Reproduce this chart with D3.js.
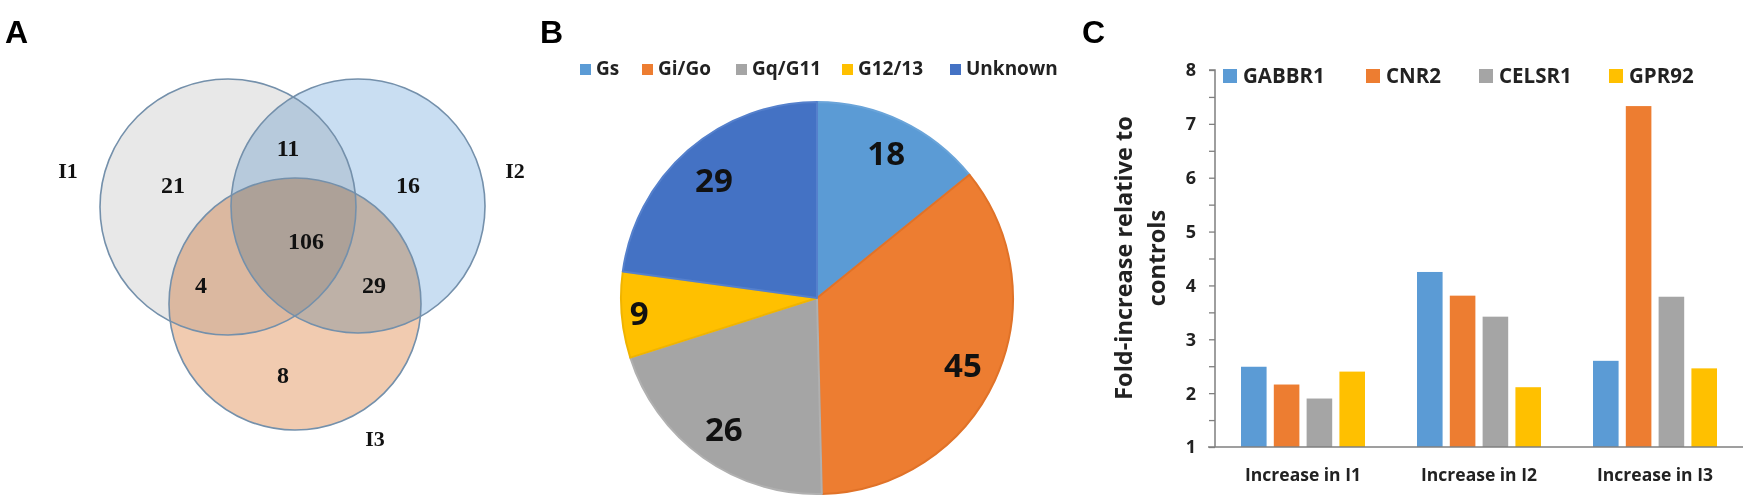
<!DOCTYPE html>
<html><head><meta charset="utf-8">
<script src="https://cdn.jsdelivr.net/npm/d3@7"></script>
<style>body{margin:0;background:#fff}svg{display:block}</style>
</head><body>
<svg id="c" width="1746" height="504"></svg>
<script>
// ---- Panel A data (Venn) ----
const vennSets = ["I1", "I2", "I3"];
const vennRegionLabels = ["21", "11", "16", "106", "4", "29", "8"];
const vennRegionNames = ["I1 only", "I1&I2", "I2 only", "all", "I1&I3", "I2&I3", "I3 only"];

// ---- Panel B data (pie) ----
const pieCategories = ["Gs", "Gi/Go", "Gq/G11", "G12/13", "Unknown"];
const pieValues = [18, 45, 26, 9, 29];

// ---- Panel C data (grouped bars) ----
const barGroups = ["Increase in I1", "Increase in I2", "Increase in I3"];
const barSeries = ["GABBR1", "CNR2", "CELSR1", "GPR92"];
const GABBR1 = [2.49, 4.25, 2.60];
const CNR2 = [2.16, 3.81, 7.33];
const CELSR1 = [1.90, 3.42, 3.79];
const GPR92 = [2.40, 2.11, 2.46];
const yTicks = [1, 2, 3, 4, 5, 6, 7, 8];

const svg = d3.select("#c");
const sans = "'Open Sans', 'Liberation Sans', sans-serif";
const serif = "'Liberation Serif', 'Times New Roman', serif";

// Panel letters
[["A", 5], ["B", 540], ["C", 1082]].forEach(([t, x]) => {
  svg.append("text").attr("x", x).attr("y", 43).text(t)
    .attr("font-family", "'Liberation Sans', Arial, sans-serif").attr("font-weight", "bold")
    .attr("font-size", 32).attr("fill", "#000");
});

// ---------- Panel A ----------
const gA = svg.append("g");
const vennGeo = [
  {cx: 228, cy: 207, r: 128, fill: "#e8e8e8"},
  {cx: 358, cy: 206, r: 127, fill: "#c9def2"},
  {cx: 295, cy: 304, r: 126, fill: "#f1cbb0"}
];
gA.selectAll("circle.f").data(vennGeo).join("circle")
  .attr("cx", d => d.cx).attr("cy", d => d.cy).attr("r", d => d.r)
  .attr("fill", d => d.fill).style("mix-blend-mode", "multiply");
gA.selectAll("circle.s").data(vennGeo).join("circle")
  .attr("cx", d => d.cx).attr("cy", d => d.cy).attr("r", d => d.r)
  .attr("fill", "none").attr("stroke", "#7490ab").attr("stroke-width", 1.6);
const regionPos = [[173, 185], [288, 148], [408, 185], [306, 241], [201, 285], [374, 285], [283, 375]];
gA.selectAll("text.r").data(vennRegionLabels).join("text")
  .attr("x", (d, i) => regionPos[i][0]).attr("y", (d, i) => regionPos[i][1] + 8)
  .attr("text-anchor", "middle").text(d => d)
  .attr("font-family", serif).attr("font-weight", "bold").attr("font-size", 24).attr("fill", "#111");
const setPos = [[68, 170], [515, 170], [375, 438]];
gA.selectAll("text.s").data(vennSets).join("text")
  .attr("x", (d, i) => setPos[i][0]).attr("y", (d, i) => setPos[i][1] + 8)
  .attr("text-anchor", "middle").text(d => d)
  .attr("font-family", serif).attr("font-weight", "bold").attr("font-size", 22).attr("fill", "#111");

// ---------- Panel B ----------
const pieColors = d3.scaleOrdinal().domain(pieCategories)
  .range(["#5b9bd5", "#ed7d31", "#a5a5a5", "#ffc000", "#4472c4"]);
const pieStroke = d3.scaleOrdinal().domain(pieCategories)
  .range(["#6aa4d9", "#e07228", "#b0b0b0", "#f0b400", "#5580cc"]);
const pieData = pieCategories.map((c, i) => ({cat: c, v: pieValues[i]}));
const arcs = d3.pie().sort(null).value(d => d.v)(pieData);
const R = 196;
const gB = svg.append("g").attr("transform", "translate(817,298)");
const arc = d3.arc().innerRadius(0).outerRadius(R);
gB.selectAll("path").data(arcs).join("path")
  .attr("d", arc).attr("fill", d => pieColors(d.data.cat))
  .attr("stroke", d => pieStroke(d.data.cat)).attr("stroke-width", 2).attr("stroke-linejoin", "round");
const labelR = [0.82, 0.82, 0.82, 0.91, 0.80];
gB.selectAll("text").data(arcs).join("text")
  .attr("transform", (d, i) => {
    const a = (d.startAngle + d.endAngle) / 2;
    const rr = R * labelR[i];
    return `translate(${Math.sin(a) * rr},${-Math.cos(a) * rr})`;
  })
  .attr("dy", "0.36em").attr("text-anchor", "middle").text(d => d.data.v)
  .attr("font-family", sans).attr("font-weight", "bold").attr("font-size", 33).attr("fill", "#111");
// legend
const pieLegX = [580, 642, 736, 842, 950];
const gBL = svg.append("g");
pieCategories.forEach((c, i) => {
  gBL.append("rect").attr("x", pieLegX[i]).attr("y", 64).attr("width", 11).attr("height", 11).attr("fill", pieColors(c));
  gBL.append("text").attr("x", pieLegX[i] + 16).attr("y", 75).text(c)
    .attr("font-family", sans).attr("font-weight", "bold").attr("font-size", 19).attr("fill", "#222");
});

// ---------- Panel C ----------
const x0 = d3.scaleBand().domain(barGroups).range([1215, 1743]).paddingInner(0).paddingOuter(0);
const x1 = d3.scaleBand().domain(barSeries).range([x0.bandwidth() / 2 - 62, x0.bandwidth() / 2 + 62]).paddingInner(0.22).paddingOuter(0);
const y = d3.scaleLinear().domain([1, 8]).range([447, 70]);
const barColors = d3.scaleOrdinal().domain(barSeries).range(["#5b9bd5", "#ed7d31", "#a5a5a5", "#ffc000"]);
const seriesVals = {GABBR1, CNR2, CELSR1, GPR92};
const gC = svg.append("g");
barGroups.forEach((g, gi) => {
  gC.selectAll(null).data(barSeries).join("rect")
    .attr("x", s => x0(g) + x1(s)).attr("width", x1.bandwidth())
    .attr("y", s => y(seriesVals[s][gi])).attr("height", s => y(1) - y(seriesVals[s][gi]))
    .attr("fill", s => barColors(s));
});
// y axis
const minorTicks = d3.range(1, 8.01, 0.5);
const yAxis = d3.axisLeft(y).tickValues(minorTicks).tickSize(6).tickFormat("");
const gy = gC.append("g").attr("transform", "translate(1215,0)").call(yAxis);
gy.select(".domain").attr("stroke", "#7f7f7f").attr("stroke-width", 1.5).attr("d", `M-6,${y(8)}H0V${y(1)}`);
gy.selectAll(".tick line").attr("stroke", "#7f7f7f").attr("stroke-width", 1.3);
gC.selectAll("text.yt").data(yTicks).join("text")
  .attr("x", 1196).attr("y", d => y(d)).attr("dy", "0.36em").attr("text-anchor", "end").text(d => d)
  .attr("font-family", sans).attr("font-weight", "bold").attr("font-size", 18).attr("fill", "#222");
// x axis
const xAxis = d3.axisBottom(x0).tickSize(0).tickPadding(22);
const gx = gC.append("g").attr("transform", `translate(0,${y(1)})`).call(xAxis);
gx.select(".domain").attr("stroke", "#7f7f7f").attr("stroke-width", 1.5).attr("d", "M1208,0H1743");
gx.selectAll(".tick text").attr("font-family", sans).attr("font-weight", "bold").attr("font-size", 17.5).attr("fill", "#222");
// y title
const yt = gC.append("text").attr("transform", "translate(1140,258) rotate(-90)")
  .attr("text-anchor", "middle").attr("font-family", sans).attr("font-weight", "bold").attr("font-size", 23.5).attr("fill", "#222");
yt.append("tspan").attr("x", 0).attr("dy", "-0.35em").text("Fold-increase relative to");
yt.append("tspan").attr("x", 0).attr("dy", "1.42em").text("controls");
// legend
const barLegX = [1223, 1366, 1479, 1609];
barSeries.forEach((s, i) => {
  gC.append("rect").attr("x", barLegX[i]).attr("y", 69).attr("width", 14).attr("height", 14).attr("fill", barColors(s));
  gC.append("text").attr("x", barLegX[i] + 20).attr("y", 83).text(s)
    .attr("font-family", sans).attr("font-weight", "bold").attr("font-size", 20.5).attr("fill", "#222");
});
</script>
</body></html>
